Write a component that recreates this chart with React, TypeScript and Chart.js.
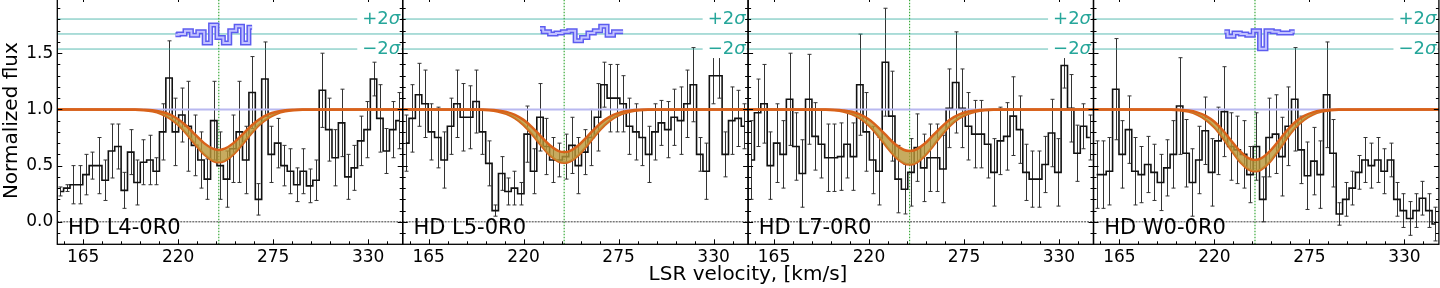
import React, { useEffect, useRef } from 'react';
import { Chart, registerables } from 'chart.js';

Chart.register(...registerables);

// ---------------- data ----------------
const PANEL_NAMES = ['HD L4-0R0', 'HD L5-0R0', 'HD L7-0R0', 'HD W0-0R0'];

const VEL = [151.8, 155.5, 159.2, 162.9, 166.6, 170.3, 174.0, 177.7, 181.4, 185.1,
  188.8, 192.5, 196.2, 199.9, 203.6, 207.3, 211.0, 214.7, 218.4, 222.1,
  225.8, 229.5, 233.2, 236.9, 240.6, 244.3, 248.0, 251.7, 255.4, 259.1,
  262.8, 266.5, 270.2, 273.9, 277.6, 281.3, 285.0, 288.7, 292.4, 296.1,
  299.8, 303.5, 307.2, 310.9, 314.6, 318.3, 322.0, 325.7, 329.4, 333.1,
  336.8, 340.5, 344.2, 347.9];

const FLUX_L4 = [0.27, 0.30, 0.33, 0.33, 0.42, 0.50, 0.50, 0.37, 0.63, 0.67,
  0.28, 0.62, 0.35, 0.53, 0.55, 0.45, 0.80, 1.28, 0.80, 0.95,
  0.85, 0.68, 0.55, 0.38, 0.90, 0.50, 0.38, 0.65, 0.80, 0.55,
  1.15, 0.20, 1.27, 0.60, 0.70, 0.50, 0.45, 0.33, 0.45, 0.32,
  0.37, 1.17, 0.82, 0.57, 0.88, 0.40, 0.48, 0.72, 0.82, 1.27,
  0.92, 0.63, 0.82, 0.90];
const ERR_L4 = [0.04, 0.03, 0.17, 0.17, 0.18, 0.12, 0.25, 0.18, 0.24, 0.20,
  0.16, 0.20, 0.20, 0.20, 0.22, 0.12, 0.25, 0.33, 0.30, 0.24,
  0.40, 0.27, 0.25, 0.18, 0.35, 0.30, 0.25, 0.30, 0.45, 0.30,
  0.32, 0.14, 0.33, 0.25, 0.22, 0.18, 0.20, 0.15, 0.20, 0.15,
  0.18, 0.33, 0.28, 0.25, 0.30, 0.20, 0.20, 0.22, 0.25, 0.15,
  0.30, 0.20, 0.25, 0.25];

const FLUX_L5 = [0.70, 0.92, 1.13, 1.05, 0.80, 0.75, 0.55, 0.85, 1.05, 0.93,
  0.93, 1.07, 0.80, 0.52, 0.10, 0.43, 0.27, 0.30, 0.25, 0.78,
  0.45, 0.93, 0.67, 0.55, 0.55, 0.58, 0.68, 0.50, 0.62, 0.75,
  0.93, 1.22, 1.10, 1.10, 1.05, 0.85, 0.80, 0.75, 0.60, 0.80,
  0.88, 0.82, 0.93, 0.90, 1.05, 1.22, 0.60, 0.45, 1.30, 1.30,
  0.60, 0.90, 0.92, 0.85];
const ERR_L5 = [0.25, 0.30, 0.28, 0.30, 0.25, 0.27, 0.25, 0.25, 0.30, 0.30,
  0.28, 0.28, 0.20, 0.20, 0.05, 0.15, 0.12, 0.15, 0.10, 0.25,
  0.20, 0.30, 0.25, 0.20, 0.15, 0.20, 0.25, 0.25, 0.20, 0.25,
  0.30, 0.20, 0.30, 0.30, 0.25, 0.25, 0.25, 0.25, 0.25, 0.25,
  0.20, 0.25, 0.25, 0.30, 0.30, 0.33, 0.15, 0.25, 0.25, 0.20,
  0.20, 0.30, 0.25, 0.20];

const FLUX_L7 = [0.55, 0.97, 1.05, 0.50, 0.70, 0.60, 1.09, 0.67, 0.43, 1.09,
  0.76, 0.69, 0.57, 0.57, 0.58, 0.69, 0.58, 1.22, 0.80, 0.55,
  0.45, 1.42, 0.94, 0.38, 0.29, 0.44, 0.66, 0.48, 0.57, 0.57,
  0.47, 1.01, 1.24, 1.01, 0.85, 0.78, 0.78, 0.69, 0.44, 0.72,
  0.76, 0.94, 0.82, 0.44, 0.38, 0.38, 0.51, 0.79, 0.44, 1.39,
  1.01, 0.61, 0.85, 0.75];
const ERR_L7 = [0.35, 0.30, 0.35, 0.30, 0.35, 0.30, 0.41, 0.30, 0.30, 0.40,
  0.30, 0.30, 0.30, 0.30, 0.30, 0.30, 0.30, 0.45, 0.35, 0.30,
  0.30, 0.48, 0.40, 0.30, 0.22, 0.30, 0.30, 0.30, 0.30, 0.30,
  0.30, 0.35, 0.45, 0.35, 0.30, 0.30, 0.30, 0.30, 0.30, 0.30,
  0.30, 0.35, 0.30, 0.25, 0.25, 0.25, 0.25, 0.30, 0.30, 0.20,
  0.30, 0.25, 0.20, 0.20];

const FLUX_W0 = [0.42, 0.42, 0.45, 1.18, 0.60, 0.82, 0.45, 0.42, 0.51, 0.44,
  0.35, 0.48, 0.60, 1.03, 0.61, 0.35, 0.55, 0.81, 0.44, 0.72,
  0.98, 0.67, 0.64, 0.60, 0.42, 0.67, 0.20, 0.75, 0.78, 0.58,
  0.85, 1.09, 0.64, 0.41, 0.54, 0.42, 1.13, 0.61, 0.07, 0.20,
  0.30, 0.44, 0.55, 0.50, 0.55, 0.45, 0.55, 0.20, 0.10, 0.03,
  0.10, 0.21, 0.10, -0.02];
const ERR_W0 = [0.30, 0.30, 0.30, 0.45, 0.30, 0.30, 0.30, 0.25, 0.25, 0.25,
  0.25, 0.25, 0.30, 0.43, 0.30, 0.30, 0.30, 0.30, 0.30, 0.30,
  0.40, 0.30, 0.30, 0.30, 0.25, 0.30, 0.20, 0.35, 0.35, 0.35,
  0.35, 0.46, 0.30, 0.30, 0.30, 0.30, 0.47, 0.30, 0.10, 0.15,
  0.15, 0.15, 0.20, 0.20, 0.20, 0.20, 0.15, 0.15, 0.15, 0.15,
  0.15, 0.15, 0.15, 0.15];

// fitted absorption model (upper / lower envelope)
const MODEL_VEL = [150, 195, 200, 205, 210, 215, 220, 225, 230, 235, 240, 243.5,
  247, 252, 257, 262, 267, 272, 277, 282, 287, 292, 350];
const MODEL_HI_L4 = [1, 0.999, 0.997, 0.992, 0.979, 0.955, 0.912, 0.850, 0.774, 0.700, 0.651, 0.640,
  0.651, 0.700, 0.774, 0.850, 0.912, 0.955, 0.979, 0.992, 0.997, 0.999, 1];
const MODEL_LO_L4 = [1, 0.997, 0.993, 0.983, 0.961, 0.922, 0.862, 0.780, 0.687, 0.600, 0.543, 0.530,
  0.543, 0.600, 0.687, 0.780, 0.862, 0.922, 0.961, 0.983, 0.993, 0.997, 1];
const MODEL_HI_L5 = [1, 0.999, 0.997, 0.991, 0.978, 0.952, 0.907, 0.841, 0.761, 0.684, 0.632, 0.620,
  0.632, 0.684, 0.761, 0.841, 0.907, 0.952, 0.978, 0.991, 0.997, 0.999, 1];
const MODEL_LO_L5 = [1, 0.997, 0.993, 0.982, 0.961, 0.922, 0.861, 0.778, 0.683, 0.595, 0.538, 0.525,
  0.538, 0.595, 0.683, 0.778, 0.861, 0.922, 0.961, 0.982, 0.993, 0.997, 1];
const MODEL_HI_L7 = [1, 0.999, 0.997, 0.991, 0.979, 0.953, 0.910, 0.845, 0.768, 0.692, 0.641, 0.630,
  0.641, 0.692, 0.768, 0.845, 0.910, 0.953, 0.979, 0.991, 0.997, 0.999, 1];
const MODEL_LO_L7 = [1, 0.997, 0.993, 0.982, 0.959, 0.919, 0.856, 0.771, 0.673, 0.583, 0.523, 0.510,
  0.523, 0.583, 0.673, 0.771, 0.856, 0.919, 0.959, 0.982, 0.993, 0.997, 1];
const MODEL_HI_W0 = [1, 0.999, 0.996, 0.990, 0.974, 0.943, 0.890, 0.812, 0.717, 0.626, 0.564, 0.550,
  0.564, 0.626, 0.717, 0.812, 0.890, 0.943, 0.974, 0.990, 0.996, 0.999, 1];
const MODEL_LO_W0 = [1, 0.997, 0.992, 0.980, 0.954, 0.909, 0.839, 0.743, 0.633, 0.531, 0.465, 0.450,
  0.465, 0.531, 0.633, 0.743, 0.839, 0.909, 0.954, 0.980, 0.992, 0.997, 1];

// residual traces (offset to the sigma band)
const RES_VEL_L4 = [218.4, 222.1, 225.8, 229.5, 233.2, 236.9, 240.6, 244.3, 248.0, 251.7, 255.4, 259.1, 262.8];
const RES_L4 = [1.665, 1.67, 1.70, 1.66, 1.69, 1.59, 1.75, 1.64, 1.59, 1.70, 1.74, 1.59, 1.73];
const RES_VEL_L5 = [229.5, 233.2, 236.9, 240.6, 244.3, 248.0, 251.7, 255.4, 259.1, 262.8, 266.5, 270.2, 273.9, 277.6];
const RES_L5 = [1.72, 1.69, 1.67, 1.68, 1.69, 1.70, 1.61, 1.64, 1.68, 1.70, 1.74, 1.66, 1.69, 1.69];
const RES_VEL_L7: number[] = [];
const RES_L7: number[] = [];
const RES_VEL_W0 = [225.8, 229.5, 233.2, 236.9, 240.6, 244.3, 248.0, 251.7, 255.4, 259.1, 262.8, 266.5];
const RES_W0 = [1.69, 1.65, 1.68, 1.67, 1.66, 1.70, 1.54, 1.70, 1.69, 1.68, 1.68, 1.69];

const SIGMA_LEVELS = [1.804, 1.671, 1.537];
const SIGMA_LABELS = ['+2', '\u22122'];
const CONTINUUM = 1.0;
const ZERO_LEVEL = 0.0;
const LINE_CENTER = 243.5;

const X_MIN = 150, X_MAX = 350, Y_MIN = -0.2, Y_MAX = 2.0;
const X_TICKS = [165, 220, 275, 330];
const X_MINOR = [154, 165, 176, 187, 198, 209, 220, 231, 242, 253, 264, 275, 286, 297, 308, 319, 330, 341];
const Y_TICKS = [0.0, 0.5, 1.0, 1.5];
const Y_MINOR = [-0.1, 0.0, 0.1, 0.2, 0.3, 0.4, 0.5, 0.6, 0.7, 0.8, 0.9, 1.0, 1.1, 1.2, 1.3, 1.4, 1.5, 1.6, 1.7, 1.8, 1.9];

const PANELS = [
  { name: PANEL_NAMES[0], flux: FLUX_L4, err: ERR_L4, hi: MODEL_HI_L4, lo: MODEL_LO_L4, rv: RES_VEL_L4, r: RES_L4 },
  { name: PANEL_NAMES[1], flux: FLUX_L5, err: ERR_L5, hi: MODEL_HI_L5, lo: MODEL_LO_L5, rv: RES_VEL_L5, r: RES_L5 },
  { name: PANEL_NAMES[2], flux: FLUX_L7, err: ERR_L7, hi: MODEL_HI_L7, lo: MODEL_LO_L7, rv: RES_VEL_L7, r: RES_L7 },
  { name: PANEL_NAMES[3], flux: FLUX_W0, err: ERR_W0, hi: MODEL_HI_W0, lo: MODEL_LO_W0, rv: RES_VEL_W0, r: RES_W0 },
];

// ---------------- layout / style ----------------
const FONT = '"DejaVu Sans", sans-serif';
const PLOT_LEFT = 57.3;
const PLOT_WIDTH = 345.4;
const CANVAS_W = 412;
const CANVAS_H = 291;
const CANVAS_TOP = -3;
const X_AXIS_H = 43.7;
const ORANGE = '#d9621a';
const TEAL_LINE = 'rgba(38,166,154,0.75)';
const TEAL_TEXT = '#26a69a';

const pts = (xs: number[], ys: number[]) => xs.map((x, i) => ({ x, y: ys[i] }));

const errorBarPlugin = {
  id: 'errorBars',
  beforeDatasetsDraw(chart: any, _a: any, opts: any) {
    const { ctx, chartArea, scales: { x, y } } = chart;
    ctx.save();
    ctx.beginPath();
    ctx.rect(chartArea.left, chartArea.top, chartArea.right - chartArea.left, chartArea.bottom - chartArea.top);
    ctx.clip();
    ctx.strokeStyle = '#333';
    ctx.lineWidth = 1;
    ctx.beginPath();
    opts.vel.forEach((v: number, i: number) => {
      const px = Math.round(x.getPixelForValue(v)) + 0.5;
      const y1 = y.getPixelForValue(opts.flux[i] - opts.err[i]);
      const y2 = y.getPixelForValue(opts.flux[i] + opts.err[i]);
      ctx.moveTo(px, y1); ctx.lineTo(px, y2);
      ctx.moveTo(px - 2, y1); ctx.lineTo(px + 2, y1);
      ctx.moveTo(px - 2, y2); ctx.lineTo(px + 2, y2);
    });
    ctx.stroke();
    ctx.restore();
  },
};

const annotatePlugin = {
  id: 'annotate',
  afterDatasetsDraw(chart: any, _a: any, opts: any) {
    const { ctx, chartArea, scales: { y } } = chart;
    ctx.save();
    const levels = [SIGMA_LEVELS[0], SIGMA_LEVELS[2]];
    SIGMA_LABELS.forEach((lab: string, j: number) => {
      const yy = y.getPixelForValue(levels[j]);
      ctx.font = `18px ${FONT}`;
      const w1 = ctx.measureText(lab).width;
      ctx.font = `italic 18px ${FONT}`;
      const w2 = ctx.measureText('\u03c3').width;
      const xr = chartArea.right - 2.5;
      const x0 = xr - w1 - w2;
      ctx.fillStyle = '#fff';
      ctx.fillRect(x0 - 5, yy - 9, w1 + w2 + 6, 18);
      ctx.fillStyle = TEAL_TEXT;
      ctx.textAlign = 'left';
      ctx.textBaseline = 'middle';
      ctx.font = `18px ${FONT}`;
      ctx.fillText(lab, x0, yy);
      ctx.font = `italic 18px ${FONT}`;
      ctx.fillText('\u03c3', x0 + w1, yy);
    });
    ctx.font = `21px ${FONT}`;
    ctx.fillStyle = '#000';
    ctx.textAlign = 'left';
    ctx.textBaseline = 'alphabetic';
    ctx.fillText(opts.name, chartArea.left + 10.7, chartArea.bottom - 10.3);
    ctx.restore();
  },
};

const framePlugin = {
  id: 'frame',
  afterDraw(chart: any) {
    const { ctx, chartArea: { left, right, top, bottom }, scales: { x, y } } = chart;
    ctx.save();
    ctx.strokeStyle = '#000';
    ctx.lineWidth = 1;
    ctx.beginPath();
    X_MINOR.forEach((v) => {
      const px = Math.round(x.getPixelForValue(v)) + 0.5;
      const len = X_TICKS.includes(v) ? 5 : 3;
      ctx.moveTo(px, bottom); ctx.lineTo(px, bottom - len);
      ctx.moveTo(px, top); ctx.lineTo(px, top + len);
    });
    Y_MINOR.forEach((v) => {
      const py = Math.round(y.getPixelForValue(v)) + 0.5;
      const len = Y_TICKS.some((t) => Math.abs(t - v) < 1e-6) ? 5 : 3;
      ctx.moveTo(left, py); ctx.lineTo(left + len, py);
      ctx.moveTo(right, py); ctx.lineTo(right - len, py);
    });
    ctx.stroke();
    ctx.lineWidth = 1.3;
    ctx.strokeRect(left, top, right - left, bottom - top);
    ctx.restore();
  },
};

function buildConfig(k: number): any {
  const p = PANELS[k];
  const L = PLOT_LEFT + k * PLOT_WIDTH;
  const cl = Math.round(L) - 57;
  const yw = L - cl;
  const datasets: any[] = [];
  const base = { pointRadius: 0, fill: false, tension: 0 };
  if (p.rv.length) {
    datasets.push({ ...base, data: pts(p.rv, p.r), borderColor: '#c2c2ff', borderWidth: 2, stepped: 'middle', order: 0 });
    datasets.push({ ...base, data: pts(p.rv, p.r), borderColor: '#5c5cf0', borderWidth: 5, stepped: 'middle', order: 1 });
  }
  datasets.push({ ...base, data: pts(MODEL_VEL, p.hi), borderColor: ORANGE, borderWidth: 2.5, cubicInterpolationMode: 'monotone', fill: '+1', backgroundColor: 'rgba(185,150,55,0.8)', order: 2 });
  datasets.push({ ...base, data: pts(MODEL_VEL, p.lo), borderColor: ORANGE, borderWidth: 2.5, cubicInterpolationMode: 'monotone', order: 3 });
  datasets.push({ ...base, data: [{ x: X_MIN, y: CONTINUUM }, { x: X_MAX, y: CONTINUUM }], borderColor: '#b8b8f0', borderWidth: 2, order: 4 });
  datasets.push({ ...base, data: pts(VEL, p.flux), borderColor: '#111', borderWidth: 1.6, stepped: 'middle', order: 5 });
  datasets.push({ ...base, data: [{ x: X_MIN, y: ZERO_LEVEL }, { x: X_MAX, y: ZERO_LEVEL }], borderColor: '#222', borderWidth: 0.9, borderDash: [2, 1], order: 6 });
  datasets.push({ ...base, data: [{ x: LINE_CENTER, y: Y_MIN }, { x: LINE_CENTER, y: Y_MAX }], borderColor: '#3aaa3a', borderWidth: 1.2, borderDash: [1.5, 1.5], order: 7 });
  SIGMA_LEVELS.forEach((lv, j) => {
    datasets.push({ ...base, data: [{ x: X_MIN, y: lv }, { x: X_MAX, y: lv }], borderColor: TEAL_LINE, borderWidth: 1, order: 8 + j });
  });

  return {
    type: 'line',
    data: { datasets },
    options: {
      responsive: false,
      animation: false,
      events: [],
      layout: { autoPadding: false, padding: { left: 0, right: CANVAS_W - yw - PLOT_WIDTH, top: 0, bottom: 0 } },
      plugins: {
        legend: { display: false },
        tooltip: { enabled: false },
        errorBars: { vel: VEL, flux: p.flux, err: p.err },
        annotate: { name: p.name },
      },
      scales: {
        x: {
          type: 'linear', min: X_MIN, max: X_MAX,
          grid: { display: false, drawTicks: false },
          border: { display: false },
          ticks: { font: { size: 17, family: FONT }, color: '#000', padding: 3, maxRotation: 0, autoSkip: false, callback: (v: any) => String(v) },
          afterBuildTicks: (s: any) => { s.ticks = X_TICKS.map((v) => ({ value: v })); },
          afterFit: (s: any) => { s.height = X_AXIS_H; s.paddingLeft = 0; s.paddingRight = 0; s.paddingTop = 0; s.paddingBottom = 0; },
        },
        y: {
          type: 'linear', min: Y_MIN, max: Y_MAX,
          grid: { display: false, drawTicks: false },
          border: { display: false },
          ticks: { display: k === 0, font: { size: 17, family: FONT }, color: '#000', padding: 4, callback: (v: any) => Number(v).toFixed(1) },
          afterBuildTicks: (s: any) => { s.ticks = Y_TICKS.map((v) => ({ value: v })); },
          afterFit: (s: any) => { s.width = yw; s.paddingTop = 0; s.paddingBottom = 0; s.paddingLeft = 0; s.paddingRight = 0; },
          title: { display: k === 0, text: 'Normalized flux', color: '#000', font: { size: 20, family: FONT }, padding: { top: 0, bottom: 0 } },
        },
      },
    },
    plugins: [errorBarPlugin, annotatePlugin, framePlugin],
  };
}

function Panel({ k }: { k: number }) {
  const ref = useRef<HTMLCanvasElement>(null);
  useEffect(() => {
    const chart = new Chart(ref.current as HTMLCanvasElement, buildConfig(k));
    return () => chart.destroy();
  }, [k]);
  const L = PLOT_LEFT + k * PLOT_WIDTH;
  const cl = Math.round(L) - 57;
  return (
    <canvas
      ref={ref}
      width={CANVAS_W}
      height={CANVAS_H}
      style={{ position: 'absolute', left: cl, top: CANVAS_TOP, width: CANVAS_W, height: CANVAS_H }}
    />
  );
}

export default function App() {
  return (
    <div style={{ position: 'fixed', left: 0, top: 0, width: 1440, height: 288, overflow: 'hidden', background: '#fff' }}>
      {PANELS.map((_, k) => <Panel key={k} k={k} />)}
      <div style={{ position: 'absolute', left: 548, width: 400, top: 261, textAlign: 'center', fontFamily: FONT, fontSize: 20, lineHeight: '24px', color: '#000' }}>
        LSR velocity, [km/s]
      </div>
    </div>
  );
}
